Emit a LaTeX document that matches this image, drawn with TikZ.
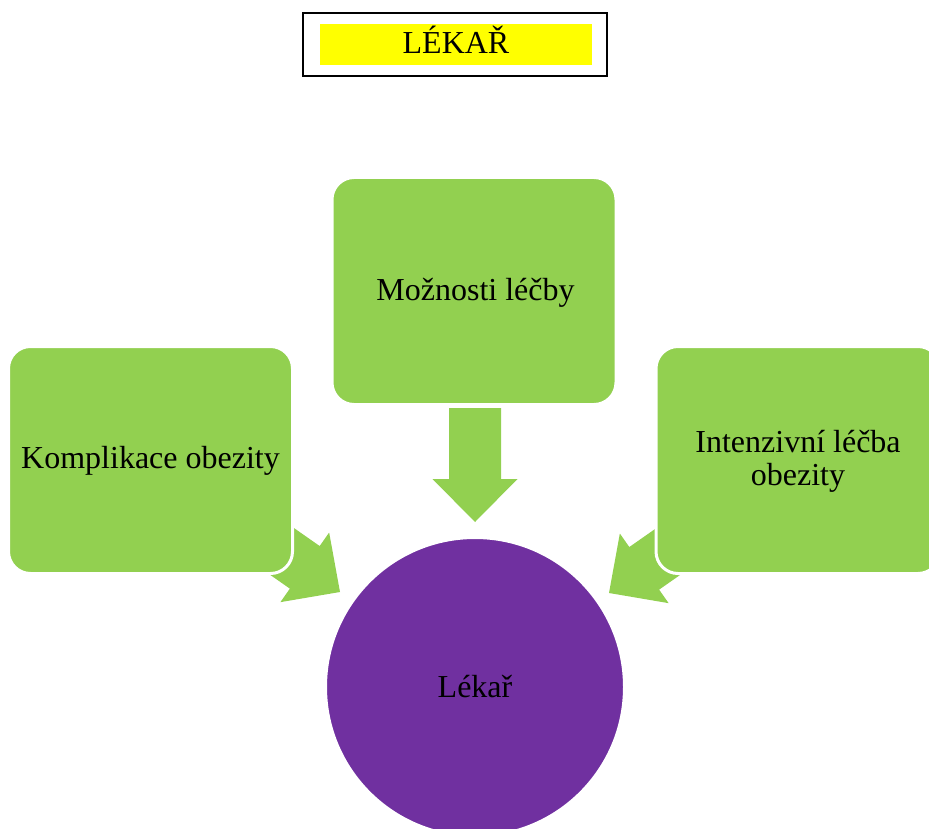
\documentclass[tikz,border=0pt]{standalone}
\usepackage{fontspec}
\setmainfont{Liberation Serif}
\definecolor{leafgreen}{HTML}{92D050}
\definecolor{docpurple}{HTML}{7030A0}
\definecolor{titleyellow}{HTML}{FFFF00}
\tikzset{
  txt/.style={font=\fontsize{32}{35}\selectfont, text=black, inner sep=0pt, anchor=base},
  greenbox/.style={fill=leafgreen, draw=white, line width=3pt, rounded corners=22pt,
    minimum width=284pt, minimum height=227pt, inner sep=0pt},
  docdisc/.style={circle, fill=docpurple, draw=white, line width=2pt,
    minimum size=298pt, inner sep=0pt},
  blockarrow/.pic={
    \fill[leafgreen] (0,0) -- (-43,42.5) -- (-43,26) -- (-114,26) -- (-114,-26)
      -- (-43,-26) -- (-43,-42.5) -- cycle;
  }
}
\begin{document}
\begin{tikzpicture}[x=1pt, y=-1pt]
  \useasboundingbox (0,0) rectangle (929,829);
  \clip (0,0) rectangle (929,829);

  % heading
  \node[draw=black, line width=2pt, minimum width=304pt, minimum height=63pt, inner sep=0pt]
    (frame) at (455,44.5) {};
  \node[fill=titleyellow, minimum width=272pt, minimum height=41pt, inner sep=0pt]
    (band) at (456,44.5) {};
  \node[txt] (title) at (456,54) {LÉKAŘ};

  % block arrows pointing at the doctor
  \path (475,522) pic[rotate=-90] {blockarrow};
  \path (340,592) pic[rotate=-35] {blockarrow};
  \path (609,593) pic[rotate=-145] {blockarrow};

  % boxes
  \node[greenbox] (treat) at (474,291) {};
  \node[greenbox] (compl) at (150.5,460) {};
  \node[greenbox] (inten) at (798,460) {};
  \node[txt] (treat-t) at (475.5,300) {Možnosti léčby};
  \node[txt] (compl-t) at (150.5,468) {Komplikace obezity};
  \node[txt] (inten-t1) at (798,452) {Intenzivní léčba};
  \node[txt] (inten-t2) at (798,485) {obezity};

  % doctor
  \node[docdisc] (doc) at (475,687) {};
  \node[txt] (doc-t) at (475,697) {Lékař};
\end{tikzpicture}
\end{document}
